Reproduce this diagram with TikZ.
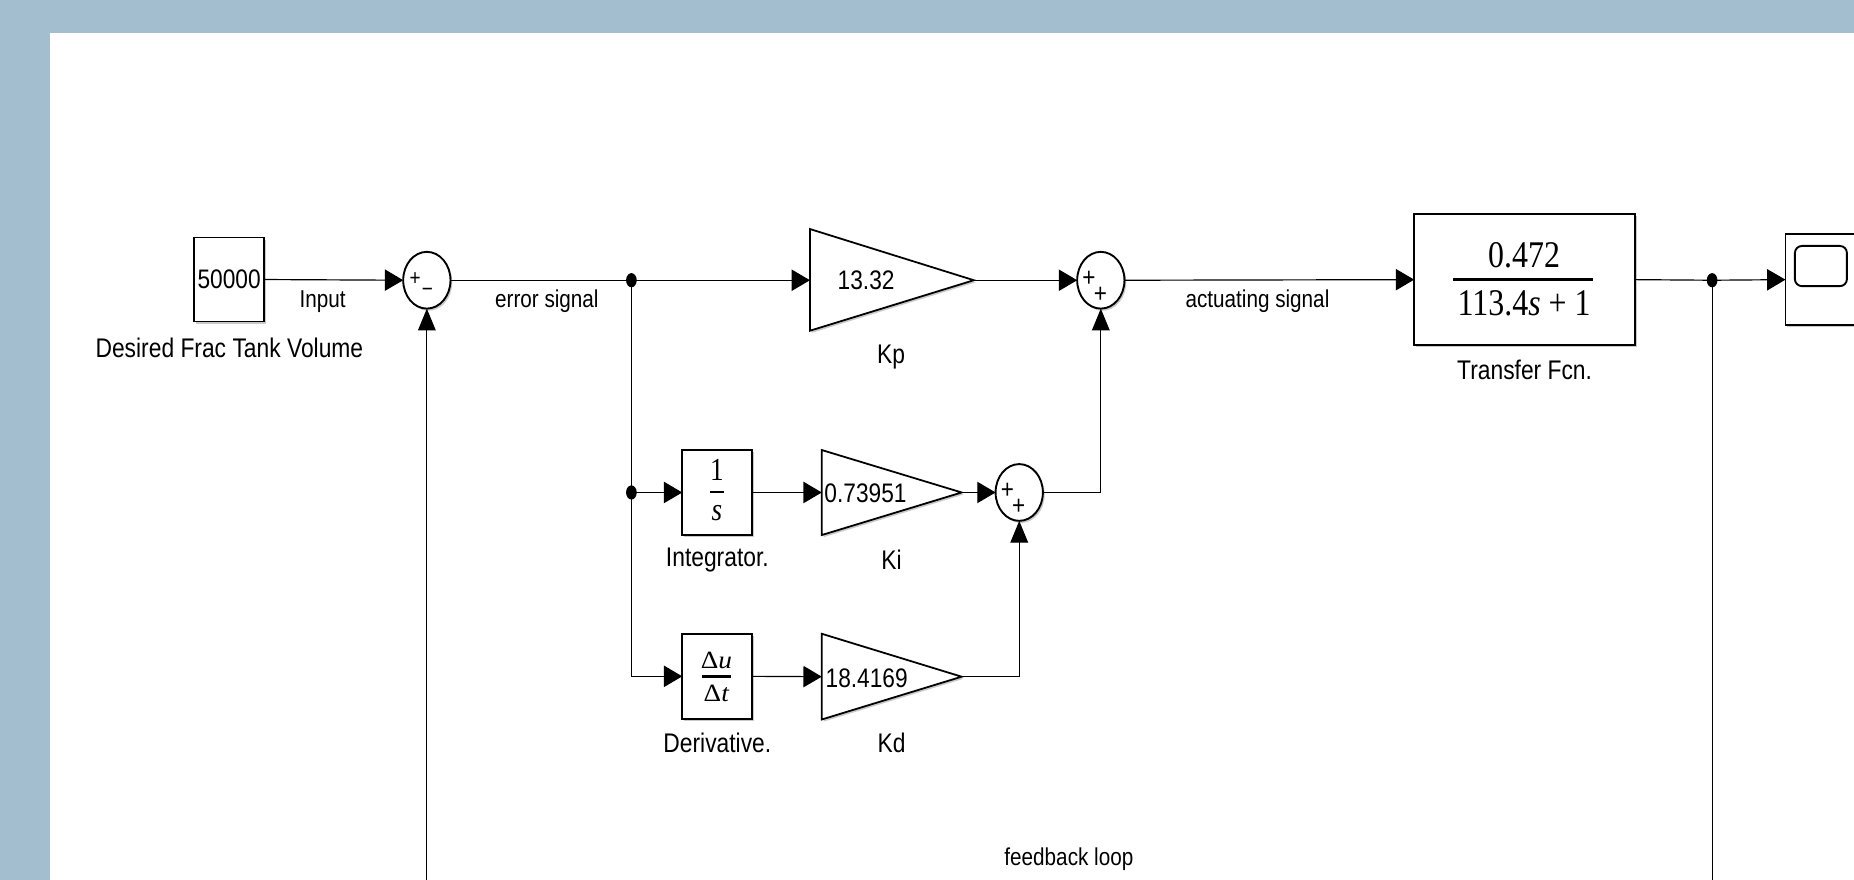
\documentclass[tikz,border=0pt]{standalone}
\usepackage{fontspec}
\usepackage{graphicx}
\setmainfont{Liberation Sans}
\newfontfamily\tnr{Liberation Serif}
\usetikzlibrary{arrows.meta,shapes.geometric,shadows}
\definecolor{bgblue}{RGB}{162,190,207}
\newcommand{\vst}[1]{\scalebox{1}[1.18]{#1}}
\newcommand{\wst}[1]{\scalebox{1.1}[1.0]{#1}}
\begin{document}
\begin{tikzpicture}[x=1pt,y=-1pt,line width=1pt,
  every node/.style={inner sep=0pt,outer sep=0pt},
  shd/.style={drop shadow={shadow xshift=1.5pt,shadow yshift=-1.8pt,fill=black!60,opacity=0.35}},
  blk/.style={draw,fill=white,line width=1.6pt,shd},
  gtri/.style={draw,fill=white,line width=1.5pt,shd},
  sumnode/.style={ellipse,draw,fill=white,minimum width=40pt,minimum height=48pt,line width=1.6pt,shd},
  elbl/.style={font=\fontsize{17.5}{20}\selectfont},
  blbl/.style={font=\fontsize{19.3}{22}\selectfont},
  gval/.style={font=\fontsize{19.2}{22}\selectfont},
  sgn/.style={font=\fontsize{19}{19}\selectfont},
  sgnsmall/.style={font=\fontsize{16}{16}\selectfont},
  tfont/.style={font=\tnr\fontsize{27}{30}\selectfont},
  ifont/.style={font=\tnr\fontsize{23}{25}\selectfont},
  dfont/.style={font=\tnr\fontsize{21}{23}\selectfont},
  fbar/.style={line width=2.2pt},
  harr/.style={-{Triangle[length=15.5pt,width=18pt]}},
  varr/.style={-{Triangle[length=18.5pt,width=15pt]}},
  dotr/.style={x radius=4.5pt,y radius=6pt}]
\useasboundingbox (0,0) rectangle (1568,744);
\clip (0,0) rectangle (1568,744);
\fill[bgblue] (0,0) rectangle (1568,744);
\fill[white] (42.3,27.6) rectangle (1568,744);

% blocks
\node[blk,gval,minimum width=59.5pt,minimum height=71pt] (const) at (193.8,236.4) {\vst{50000}};
\node[sumnode] (s1) at (361,237) {};
\node[sgnsmall] (s1p) at (351,236.2) {\vst{+}};
\node[sgnsmall] (s1m) at (361.4,247.5) {\vst{−}};

\coordinate (kpin) at (685,237);
\coordinate (kpout) at (823.6,237);
\path[gtri] (685,193.7) -- (823.6,237) -- (685,279.7) -- cycle;
\node[gval] (kpv) at (732.5,237) {\vst{13.32}};

\node[sumnode] (s2) at (931,237) {};
\node[sgn] (s2p) at (921,236) {\vst{+}};
\node[sgn] (s2q) at (930.6,249) {\vst{+}};

\node[blk,minimum width=187pt,minimum height=111pt] (tf) at (1289.5,236.5) {};
\node[tfont] (tfn) at (1289,216) {\vst{0.472}};
\node[tfont] (tfd) at (1289,256.5) {\vst{113.4\textit{s} + 1}};
\draw[fbar] (1229,236.5) -- (1347,236.5);

\node[blk,minimum width=90pt,minimum height=77pt,anchor=west] (scope) at (1510,236.5) {};
\draw[line width=1.6pt,rounded corners=6pt] (1518,208) rectangle (1562,242);

\node[blk,minimum width=59pt,minimum height=72pt] (int) at (606.5,416.5) {};
\node[ifont] (int1) at (606.4,397.5) {\vst{1}};
\node[ifont] (ints) at (606.4,434) {\vst{\textit{s}}};
\draw[fbar] (600.5,416) -- (612.3,416);

\node[blk,minimum width=59pt,minimum height=72pt] (der) at (606.5,572) {};
\node[dfont] (derdu) at (606,558.2) {\wst{Δ\textit{u}}};
\node[dfont] (derdt) at (606,586.4) {\wst{Δ\textit{t}}};
\draw[fbar] (594,572.3) -- (618,572.3);

\coordinate (kiin) at (695,416.5);
\coordinate (kiout) at (813.3,416.5);
\path[gtri] (695,380.6) -- (813.3,416.5) -- (695,452.5) -- cycle;
\node[gval,anchor=west] (kiv) at (697.3,417) {\vst{0.73951}};

\coordinate (kdin) at (695,572.3);
\coordinate (kdout) at (813.3,572.3);
\path[gtri] (695,536) -- (813.3,572.3) -- (695,608.5) -- cycle;
\node[gval,anchor=west] (kdv) at (698.3,573.5) {\vst{18.4169}};

\node[sumnode] (s3) at (862,416.5) {};
\node[sgn] (s3p) at (852,415.5) {\vst{+}};
\node[sgn] (s3q) at (861.6,428.5) {\vst{+}};

% branch points
\coordinate (d1) at (534,237);
\coordinate (d2) at (534,416.5);
\coordinate (d3) at (1448,237);
\coordinate (fb1) at (1448,790);
\coordinate (fb2) at (361,790);

% connectors
\draw[harr] (const.east) -- (s1.west);
\draw (s1.east) -- (d1);
\draw[harr] (d1) -- (kpin);
\draw[harr] (kpout) -- (s2.west);
\draw[harr] (s2.east) -- (tf.west);
\draw (tf.east) -- (d3);
\draw[harr] (d3) -- (scope.west);
\draw (d1) -- (d2);
\draw[harr] (d2) -- (int.west);
\draw[harr] (d2) |- (der.west);
\draw[harr] (int.east) -- (kiin);
\draw[harr] (der.east) -- (kdin);
\draw[harr] (kiout) -- (s3.west);
\draw[varr] (kdout) -| (s3.south);
\draw[varr] (s3.east) -| (s2.south);
\draw[varr] (d3) -- (fb1) -- (fb2) -- (s1.south);

\fill (d1) ellipse [dotr];
\fill (d2) ellipse [dotr];
\fill (d3) ellipse [dotr];

% labels
\node[blbl] (lconst) at (194,294) {\vst{Desired Frac Tank Volume}};
\node[elbl] (lin) at (272.8,255) {\vst{Input}};
\node[elbl] (lerr) at (462.5,255) {\vst{error signal}};
\node[blbl] (lkp) at (753.7,301.7) {\vst{Kp}};
\node[elbl] (lact) at (1063.5,255) {\vst{actuating signal}};
\node[blbl] (ltf) at (1289.4,313) {\vst{Transfer Fcn.}};
\node[blbl] (lint) at (606.7,473.6) {\vst{Integrator.}};
\node[blbl] (lki) at (754,473.6) {\vst{Ki}};
\node[blbl] (lder) at (606.7,628.5) {\vst{Derivative.}};
\node[blbl] (lkd) at (754,628.5) {\vst{Kd}};
\node[elbl] (lfb) at (904,727) {\vst{feedback loop}};
\end{tikzpicture}
\end{document}
